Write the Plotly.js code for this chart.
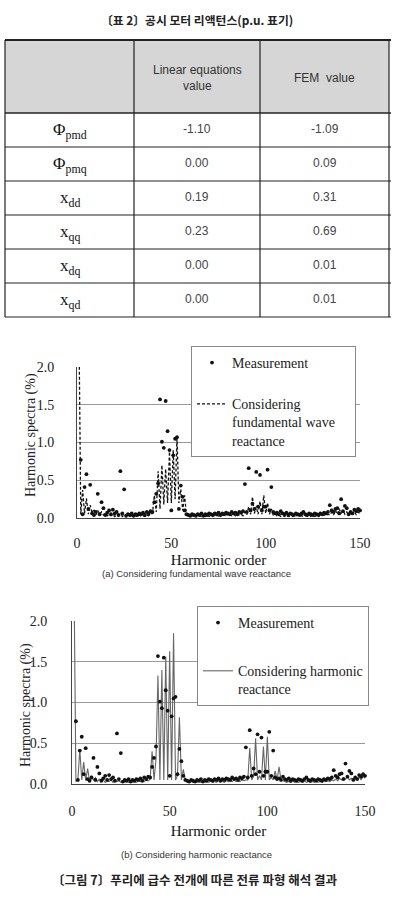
<!DOCTYPE html>
<html><head><meta charset="utf-8">
<script src="https://cdn.plot.ly/plotly-3.0.1.min.js"></script>
<style>html,body{margin:0;padding:0;background:#fff;}#chart{width:394px;height:905px;}</style>
</head><body><div id="chart"></div>
<script>
// ---------- table data ----------
const tableTitle = '〔표 2〕공시 모터 리액턴스(p.u. 표기)';
const tableHeader = ['', 'Linear equations<br>value', 'FEM  value'];
const paramLabels = ['Φ<sub>pmd</sub>', 'Φ<sub>pmq</sub>', 'x<sub>dd</sub>', 'x<sub>qq</sub>', 'x<sub>dq</sub>', 'x<sub>qd</sub>'];
const linearValues = ['-1.10', '0.00', '0.19', '0.23', '0.00', '0.00'];
const femValues = ['-1.09', '0.09', '0.31', '0.69', '0.01', '0.01'];

// ---------- chart texts ----------
const captionA = '(a) Considering fundamental wave reactance';
const captionB = '(b) Considering harmonic reactance';
const figCaption = '〔그림 7〕푸리에 급수 전개에 따른 전류 파형 해석 결과';
const xTitle = 'Harmonic order';
const yTitle = 'Harmonic spectra (%)';
const xTicks = [0, 50, 100, 150];
const yTicks = [0, 0.5, 1.0, 1.5, 2.0];
const measName = 'Measurement';
const fundName = 'Considering<br>fundamental wave\u2002\u2002<br>reactance';
const harmName = 'Considering harmonic<br>reactance';

// ---------- measurement (harmonic orders 2..150) ----------
const measurement = [
  0.77, 0.05, 0.41, 0.58, 0.12, 0.44, 0.06, 0.04, 0.08,        // 2-10
  0.32, 0.05, 0.21, 0.13, 0.04, 0.07, 0.10, 0.05, 0.11, 0.06,  // 11-20
  0.08, 0.04, 0.62, 0.06, 0.38, 0.03, 0.05, 0.04, 0.06, 0.03,  // 21-30
  0.05, 0.04, 0.06, 0.05, 0.07, 0.04, 0.08, 0.06, 0.09, 0.08,  // 31-40
  0.21, 0.32, 0.46, 1.57, 1.01, 0.93, 1.55, 1.15, 0.90, 0.10,  // 41-50
  0.83, 1.05, 1.07, 0.12, 0.43, 0.28, 0.10, 0.05, 0.04, 0.03,  // 51-60
  0.05, 0.04, 0.03, 0.05, 0.04, 0.06, 0.03, 0.05, 0.04, 0.06,  // 61-70
  0.05, 0.04, 0.06, 0.05, 0.07, 0.04, 0.06, 0.05, 0.07, 0.06,  // 71-80
  0.05, 0.08, 0.06, 0.07, 0.05, 0.08, 0.07, 0.09, 0.45, 0.08,  // 81-90
  0.66, 0.10, 0.19, 0.12, 0.61, 0.15, 0.57, 0.10, 0.15, 0.15,  // 91-100
  0.64, 0.10, 0.41, 0.08, 0.06, 0.07, 0.05, 0.09, 0.06, 0.05,  // 101-110
  0.07, 0.04, 0.06, 0.05, 0.04, 0.06, 0.05, 0.04, 0.06, 0.08,  // 111-120
  0.05, 0.04, 0.06, 0.05, 0.04, 0.06, 0.05, 0.04, 0.06, 0.05,  // 121-130
  0.07, 0.06, 0.08, 0.17, 0.10, 0.08, 0.12, 0.13, 0.06, 0.25,  // 131-140
  0.09, 0.16, 0.13, 0.05, 0.08, 0.06, 0.11, 0.09, 0.12, 0.10   // 141-150
];
const measFirstOrder = 2;

// ---------- simulation with fundamental wave reactance (orders 1..150) ----------
const fundLine = [
  2.60, 0.05, 0.37, 0.06, 0.26, 0.05, 0.17, 0.06, 0.12, 0.04,
  0.10, 0.05, 0.08, 0.04, 0.06, 0.03, 0.05, 0.03, 0.05, 0.02,
  0.04, 0.03, 0.05, 0.02, 0.04, 0.03, 0.04, 0.02, 0.03, 0.02,
  0.03, 0.02, 0.04, 0.02, 0.03, 0.02, 0.04, 0.03, 0.05, 0.06,
  0.30, 0.08, 0.62, 0.12, 0.70, 0.18, 0.65, 0.20, 0.88, 0.20,
  0.90, 0.25, 1.08, 0.20, 0.38, 0.10, 0.30, 0.05, 0.04, 0.02,
  0.03, 0.02, 0.04, 0.02, 0.03, 0.02, 0.03, 0.02, 0.04, 0.02,
  0.03, 0.02, 0.04, 0.03, 0.03, 0.02, 0.04, 0.03, 0.05, 0.03,
  0.04, 0.03, 0.05, 0.03, 0.06, 0.04, 0.05, 0.03, 0.08, 0.04,
  0.15, 0.05, 0.28, 0.06, 0.15, 0.05, 0.22, 0.05, 0.30, 0.06,
  0.20, 0.05, 0.12, 0.04, 0.06, 0.03, 0.04, 0.02, 0.03, 0.02,
  0.04, 0.02, 0.03, 0.02, 0.03, 0.02, 0.04, 0.02, 0.03, 0.02,
  0.03, 0.02, 0.04, 0.02, 0.03, 0.02, 0.03, 0.02, 0.04, 0.03,
  0.04, 0.03, 0.05, 0.04, 0.08, 0.04, 0.10, 0.05, 0.12, 0.06,
  0.10, 0.05, 0.08, 0.04, 0.07, 0.05, 0.09, 0.04, 0.08, 0.06
];

// ---------- simulation with harmonic reactance (orders 1..150) ----------
const harmLine = [
  2.60, 0.03, 0.05, 0.42, 0.05, 0.27, 0.04, 0.19, 0.04, 0.10,
  0.05, 0.08, 0.03, 0.06, 0.03, 0.05, 0.02, 0.04, 0.03, 0.05,
  0.02, 0.04, 0.03, 0.04, 0.02, 0.03, 0.02, 0.04, 0.02, 0.03,
  0.02, 0.03, 0.02, 0.04, 0.03, 0.04, 0.03, 0.05, 0.04, 0.06,
  0.40, 0.05, 0.30, 1.33, 0.05, 1.40, 0.05, 1.56, 0.05, 1.63,
  0.05, 1.85, 0.05, 0.10, 0.82, 0.05, 0.18, 0.05, 0.03, 0.02,
  0.03, 0.02, 0.03, 0.02, 0.04, 0.02, 0.03, 0.02, 0.03, 0.02,
  0.04, 0.02, 0.03, 0.02, 0.04, 0.03, 0.03, 0.02, 0.04, 0.03,
  0.04, 0.03, 0.05, 0.03, 0.04, 0.03, 0.05, 0.04, 0.05, 0.05,
  0.44, 0.05, 0.10, 0.56, 0.05, 0.10, 0.05, 0.46, 0.05, 0.58,
  0.05, 0.08, 0.05, 0.16, 0.05, 0.21, 0.05, 0.04, 0.03, 0.02,
  0.03, 0.02, 0.04, 0.02, 0.03, 0.02, 0.03, 0.02, 0.04, 0.02,
  0.03, 0.02, 0.03, 0.02, 0.04, 0.02, 0.03, 0.02, 0.04, 0.03,
  0.04, 0.03, 0.05, 0.04, 0.06, 0.04, 0.07, 0.05, 0.08, 0.06,
  0.09, 0.05, 0.07, 0.05, 0.08, 0.06, 0.09, 0.05, 0.10, 0.07
];
const lineFirstOrder = 1;

const measOrders = measurement.map((_, i) => i + measFirstOrder);
const lineOrders = fundLine.map((_, i) => i + lineFirstOrder);

const W = 394, H = 905;
const serif = 'Liberation Serif, Times New Roman, serif';
const sans = 'Liberation Sans, Arial, sans-serif';
const kr = 'Noto Sans CJK KR, sans-serif';
const py = px => 1 - px / H;   // page pixel -> paper y
const pxX = px => px / W;      // page pixel -> paper x

// ---------- table drawn with shapes + annotations ----------
const colEdges = [5, 134, 260, 389];
const headTop = 40, headBottom = 113, rowH = 34;
const tableBottom = headBottom + rowH * paramLabels.length;
const shapes = [];
const annotations = [];
shapes.push({type: 'rect', xref: 'paper', yref: 'paper', x0: pxX(colEdges[0]), x1: pxX(colEdges[3]),
  y0: py(headBottom), y1: py(headTop), fillcolor: '#d6d6d6', line: {width: 0}, layer: 'below'});
shapes.push({type: 'line', xref: 'paper', yref: 'paper', x0: pxX(colEdges[0]), x1: pxX(colEdges[3]) + 0.005,
  y0: py(headTop), y1: py(headTop), line: {color: '#222', width: 2}});
for (let i = 0; i <= paramLabels.length; i++) {
  const yy = headBottom + rowH * i;
  shapes.push({type: 'line', xref: 'paper', yref: 'paper', x0: pxX(colEdges[0]), x1: pxX(colEdges[3]) + 0.005,
    y0: py(yy), y1: py(yy), line: {color: '#222', width: i === 0 ? 1.5 : 1.2}});
}
colEdges.forEach(cx => {
  shapes.push({type: 'line', xref: 'paper', yref: 'paper', x0: pxX(cx), x1: pxX(cx),
    y0: py(tableBottom), y1: py(headTop), line: {color: '#222', width: 1.2}});
});
const colCenters = [0, 1, 2].map(c => (colEdges[c] + colEdges[c + 1]) / 2);
tableHeader.forEach((t, c) => {
  if (!t) return;
  annotations.push({text: t, xref: 'paper', yref: 'paper', x: pxX(colCenters[c]), y: py((headTop + headBottom) / 2 + 1),
    showarrow: false, xanchor: 'center', yanchor: 'middle', align: 'center',
    font: {family: sans, size: 12, color: '#333'}});
});
const tableCols = [paramLabels, linearValues, femValues];
tableCols.forEach((col, c) => {
  col.forEach((t, r) => {
    const cy = headBottom + rowH * r + rowH / 2;
    annotations.push({text: t, xref: 'paper', yref: 'paper', x: pxX(colCenters[c]), y: py(c === 0 ? cy + 1 : cy - 1),
      showarrow: false, xanchor: 'center', yanchor: 'middle',
      font: c === 0 ? {family: serif, size: 17, color: '#111'} : {family: sans, size: 12, color: '#444'}});
  });
});

// ---------- captions and y titles ----------
annotations.push(
  {text: tableTitle, xref: 'paper', yref: 'paper', x: pxX(197), y: py(20), showarrow: false,
   xanchor: 'center', yanchor: 'middle', font: {family: kr, size: 11.8, color: '#222', weight: 'bold'}},
  {text: yTitle, xref: 'paper', yref: 'paper', x: pxX(31), y: py(435), showarrow: false, textangle: -90,
   xanchor: 'center', yanchor: 'middle', font: {family: serif, size: 14, color: '#222'}},
  {text: yTitle, xref: 'paper', yref: 'paper', x: pxX(26), y: py(705), showarrow: false, textangle: -90,
   xanchor: 'center', yanchor: 'middle', font: {family: serif, size: 14, color: '#222'}},
  {text: captionA, xref: 'paper', yref: 'paper', x: pxX(196), y: py(573), showarrow: false,
   xanchor: 'center', yanchor: 'middle', font: {family: sans, size: 9.5, color: '#333'}},
  {text: captionB, xref: 'paper', yref: 'paper', x: pxX(196), y: py(854), showarrow: false,
   xanchor: 'center', yanchor: 'middle', font: {family: sans, size: 9.5, color: '#333'}},
  {text: figCaption, xref: 'paper', yref: 'paper', x: pxX(195), y: py(879), showarrow: false,
   xanchor: 'center', yanchor: 'middle', font: {family: kr, size: 12.5, color: '#222', weight: 'bold'}}
);

const traces = [
  {
    type: 'scatter', mode: 'lines', x: lineOrders, y: fundLine, xaxis: 'x', yaxis: 'y',
    name: fundName, legend: 'legend', legendgroup: 'f', legendrank: 2,
    line: {color: '#111', width: 1.3, dash: '3px,2px'}, hoverinfo: 'skip'
  },
  {
    type: 'scatter', mode: 'markers', x: measOrders, y: measurement, xaxis: 'x', yaxis: 'y',
    name: measName, legend: 'legend', legendgroup: 'm', legendrank: 1,
    marker: {color: '#111', size: 3.8, symbol: 'circle'}, cliponaxis: false
  },
  {
    type: 'scatter', mode: 'lines', x: lineOrders, y: harmLine, xaxis: 'x2', yaxis: 'y2',
    name: harmName, legend: 'legend2', legendgroup: 'h', legendrank: 2,
    line: {color: '#666', width: 1.1}, hoverinfo: 'skip'
  },
  {
    type: 'scatter', mode: 'markers', x: measOrders, y: measurement, xaxis: 'x2', yaxis: 'y2',
    name: measName, legend: 'legend2', legendgroup: 'm2', legendrank: 1,
    marker: {color: '#111', size: 3.8, symbol: 'circle'}, cliponaxis: false
  }
];

function xAxis(domain, anchor, standoff, titleStandoff) {
  return {
    domain: domain, anchor: anchor, range: [0, 150], tickvals: xTicks,
    showgrid: false, zeroline: false, showline: true, linecolor: '#444', linewidth: 1,
    ticks: '', ticklabelstandoff: standoff, fixedrange: true,
    tickfont: {family: serif, size: 14, color: '#222'},
    title: {text: xTitle, font: {family: serif, size: 15, color: '#111'}, standoff: titleStandoff}
  };
}
function yAxis(domain, anchor, standoff) {
  return {
    domain: domain, anchor: anchor, range: [0, 2], tickvals: yTicks, tickformat: '.1f',
    showgrid: true, gridcolor: '#9a9a9a', gridwidth: 1, zeroline: false,
    showline: true, linecolor: '#444', linewidth: 1, ticks: '', ticklabelstandoff: standoff,
    fixedrange: true,
    tickfont: {family: serif, size: 14, color: '#222'}
  };
}

const legendBase = {
  xanchor: 'left', yanchor: 'top', bgcolor: '#ffffff', bordercolor: '#888', borderwidth: 1,
  font: {family: serif, size: 14, color: '#222'}, traceorder: 'grouped',
  valign: 'top', itemwidth: 30
};

const layout = {
  width: W, height: H, margin: {l: 0, r: 0, t: 0, b: 0},
  paper_bgcolor: '#ffffff', plot_bgcolor: 'rgba(0,0,0,0)',
  showlegend: true,
  xaxis: xAxis([pxX(77), pxX(360)], 'y', 12, 4),
  yaxis: yAxis([py(518), py(367)], 'x', 19),
  xaxis2: xAxis([pxX(72), pxX(365)], 'y2', 14, 7),
  yaxis2: yAxis([py(784), py(621)], 'x2', 21),
  legend: Object.assign({}, legendBase, {x: pxX(191), y: py(346), tracegroupgap: 20}),
  legend2: Object.assign({}, legendBase, {x: pxX(197), y: py(606), tracegroupgap: 27}),
  shapes: shapes,
  annotations: annotations
};

Plotly.newPlot('chart', traces, layout, {displayModeBar: false, staticPlot: true});
</script>
</body></html>
